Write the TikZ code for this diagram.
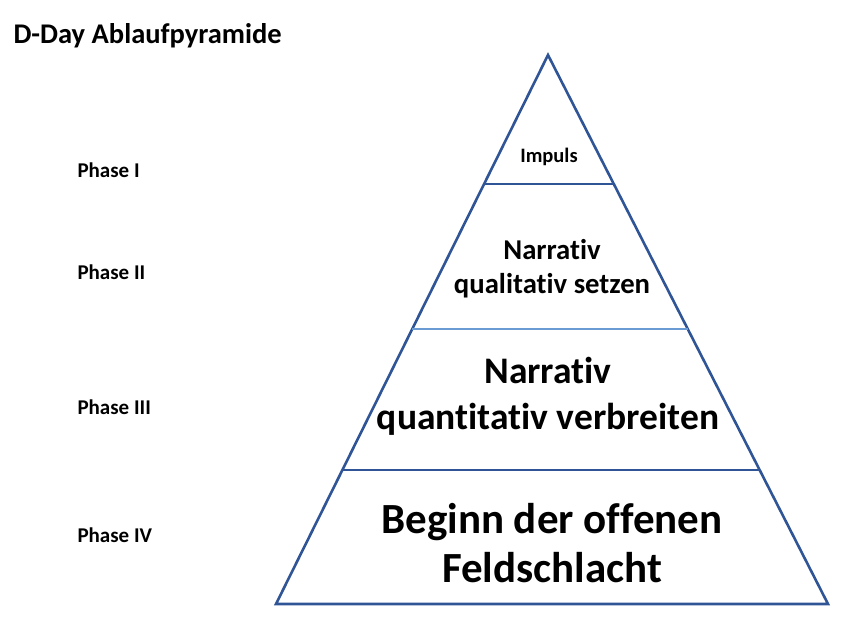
\documentclass[tikz,border=0pt]{standalone}
\usepackage{fontspec}
\setmainfont[RawFeature=-liga]{Carlito}
\usetikzlibrary{calc}
\definecolor{pyrblue}{HTML}{2F5597}
\definecolor{pyrlight}{HTML}{6A9BD2}
\newcommand*{\fsz}[2]{\fontsize{#1}{#2}\selectfont}

\begin{document}
\begin{tikzpicture}[x=1pt, y=-1pt, font=\bfseries,
    phase/.style={anchor=west, font=\bfseries\fsz{21}{25}},
    divider/.style={line width=2.6pt}]
    \useasboundingbox (0,0) rectangle (861,627);
    % pyramid
    \coordinate (top) at (548,55);
    \coordinate (bl)  at (276,604);
    \coordinate (br)  at (828,604);
    \draw [pyrblue, line width=2.6pt, line join=miter] (top) -- (bl) -- (br) -- cycle;
    \draw [divider, pyrblue]  ($(top)!0.235!(bl)$) -- ($(top)!0.235!(br)$);
    \draw [divider, pyrlight] ($(top)!0.499!(bl)$) -- ($(top)!0.499!(br)$);
    \draw [divider, pyrblue]  ($(top)!0.756!(bl)$) -- ($(top)!0.756!(br)$);
    % texts
    \node [anchor=west, font=\bfseries\fsz{28.5}{34}] (title) at (10,36) {D-Day Ablaufpyramide};
    \node [phase] (ph1) at (74,170) {Phase I};
    \node [phase] (ph2) at (74,272) {Phase II};
    \node [phase] (ph3) at (74,407) {Phase III};
    \node [phase] (ph4) at (74,535) {Phase IV};
    \node [font=\bfseries\fsz{20.5}{24}] (impuls) at (549,157) {Impuls};
    \node [align=center, font=\bfseries\fsz{28.7}{34}] (quali) at (552,269) {Narrativ\\qualitativ setzen};
    \node [align=center, font=\bfseries\fsz{37.5}{46}] (quanti) at (548,396) {Narrativ\\quantitativ verbreiten};
    \node [align=center, font=\bfseries\fsz{43}{49}] (feld) at (552,543) {Beginn der offenen\\Feldschlacht};
\end{tikzpicture}
\end{document}
